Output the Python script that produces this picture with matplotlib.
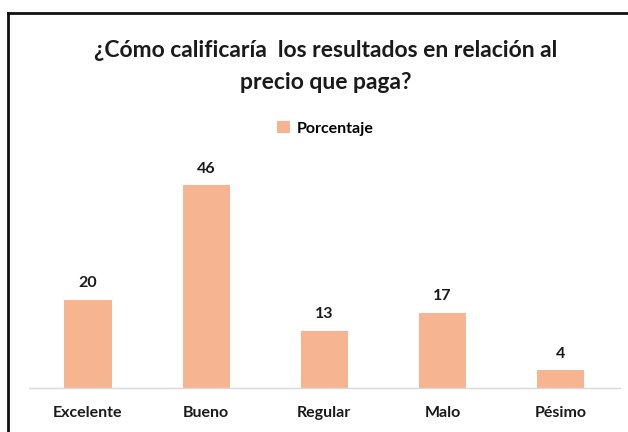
import matplotlib
matplotlib.use("Agg")
import matplotlib.pyplot as plt
from matplotlib.lines import Line2D

categories = ["Excelente", "Bueno", "Regular", "Malo", "Pésimo"]
values = [20, 46, 13, 17, 4]
series_name = "Porcentaje"
title = "¿Cómo calificaría  los resultados en relación al\nprecio que paga?"

bar_color = "#F7B490"
plt.rcParams['font.family'] = ['Lato', 'DejaVu Sans']

fig = plt.figure(figsize=(6.28, 4.32), dpi=100)
ax = fig.add_axes([0.046, 0.102, 0.941, 0.510])
x = list(range(len(categories)))
bars = ax.bar(x, values, width=0.4, color=bar_color, label=series_name, zorder=2)
ax.set_xlim(-0.5, 4.5)
ax.set_ylim(0, 50)
for s in ["top", "right", "left"]:
    ax.spines[s].set_visible(False)
ax.spines["bottom"].set_color("#D9D9D9")
ax.spines["bottom"].set_linewidth(1.0)
ax.set_yticks([])
ax.set_xticks(x)
ax.set_xticklabels(categories, fontsize=11.5, fontweight="bold", color="#1a1a1a")
ax.tick_params(axis="x", length=0, pad=13)
for xi, v in zip(x, values):
    ax.annotate(str(v), (xi, v), xytext=(0, 7), textcoords="offset points",
                ha="center", va="bottom", fontsize=11.5, fontweight="bold", color="#1a1a1a")

fig.text(0.518, 0.845, title, ha="center", va="center", fontsize=16.5,
         fontweight="bold", color="#1a1a1a", linespacing=1.65)
fig.legend(handles=[bars], labels=[series_name], loc="center", bbox_to_anchor=(0.518, 0.703),
           frameon=False, prop={"weight": "bold", "size": 11.5},
           handlelength=0.8, handleheight=0.8, handletextpad=0.4)

# chart border (top and left visible)
fig.add_artist(Line2D([0.013, 1.0], [1 - 13/432, 1 - 13/432], color="#111111", lw=2, transform=fig.transFigure))
fig.add_artist(Line2D([0.013, 0.013], [0.0, 1 - 13/432], color="#111111", lw=2, transform=fig.transFigure))

fig.savefig("out.png", dpi=100)
